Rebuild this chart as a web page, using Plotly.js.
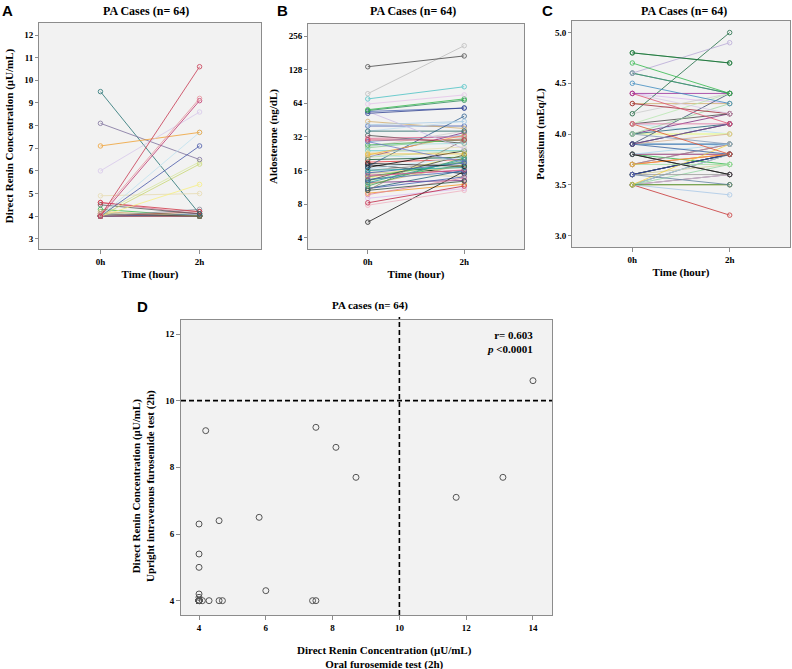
<!DOCTYPE html>
<html>
<head>
<meta charset="utf-8">
<script src="https://cdn.plot.ly/plotly-3.0.1.min.js"></script>
<style>
  body { margin: 0; background: #fff; }
  #chart { width: 792px; height: 669px; }
</style>
</head>
<body>
<div id="chart"></div>
<script>
// ---- data ----
const timeLabels = ['0h', '2h'];

// A: direct renin concentration (uU/mL), upright IV furosemide test
const reninBefore = [4.0, 4.1, 4.0, 6.0, 7.1, 4.0, 4.0, 8.1, 4.1, 4.0, 4.0, 4.9, 9.5, 4.6, 4.5, 4.6, 4.0, 4.0,
  4.1, 4.2, 4.0, 4.3, 4.1, 4.0,
  4.0, 4.0, 4.0, 4.0, 4.0, 4.0, 4.0, 4.0, 4.0, 4.0, 4.0, 4.0, 4.0, 4.0, 4.0, 4.0, 4.0, 4.0, 4.0, 4.0,
  4.0, 4.0, 4.0, 4.0, 4.0, 4.0, 4.0, 4.0, 4.0, 4.0, 4.0, 4.0, 4.0, 4.0, 4.0, 4.0, 4.0, 4.0, 4.0, 4.0];
const reninAfter = [10.6, 9.2, 9.1, 8.6, 7.7, 7.7, 7.1, 6.5, 6.4, 6.3, 5.4, 5.0, 4.1, 4.2, 4.1, 4.1, 4.3, 4.2,
  4.0, 4.0, 4.1, 4.0, 4.1, 4.0,
  4.0, 4.0, 4.0, 4.0, 4.0, 4.0, 4.0, 4.0, 4.0, 4.0, 4.0, 4.0, 4.0, 4.0, 4.0, 4.0, 4.0, 4.0, 4.0, 4.0,
  4.0, 4.0, 4.0, 4.0, 4.0, 4.0, 4.0, 4.0, 4.0, 4.0, 4.0, 4.0, 4.0, 4.0, 4.0, 4.0, 4.0, 4.0, 4.0, 4.0];

// B: aldosterone (ng/dL)
const aldoBefore = [136, 78, 70, 63, 56, 55, 52, 54, 41, 54, 36, 36, 30, 31, 29, 27, 25.5, 27, 22.5, 22,
  23, 21, 18.5, 17.4, 16, 15.2, 14.2, 13.3, 12.4, 11.6, 10.6, 10.6, 9.7, 8.2, 7.8, 5.5, 17, 16.5, 13, 12,
  11, 14, 15, 12.5, 13.5, 19, 24, 26, 29, 20, 10, 9, 11, 12, 14.5, 16, 18, 22, 33, 44, 40, 13, 15.5, 21];
const aldoAfter = [170, 210, 90, 76, 70, 68, 58, 58, 44, 25, 36, 44, 30, 32, 19, 30, 31, 28, 22.5, 33,
  26, 24, 17.4, 49, 17, 18.6, 16.2, 15.7, 20, 20.7, 12.8, 30, 13.7, 11.6, 10.6, 15.7, 24, 21, 22, 18,
  14, 19, 17, 13, 22, 20, 24, 36, 33, 21, 12, 11, 16, 23, 16, 19, 15, 20, 28, 38, 40, 18, 14, 35];

// C: potassium (mEq/L)
const kBefore = [4.8, 4.7, 4.6, 4.6, 4.5, 4.4, 4.4, 4.4, 4.3, 4.2, 4.1, 4.1, 4.1, 4.0, 4.0, 3.9, 3.9, 3.9, 3.9, 3.8,
  3.8, 3.7, 3.7, 3.6, 3.6, 3.6, 3.5, 3.5, 3.5, 3.5, 3.5, 3.5,
  4.0, 3.9, 3.8, 3.7, 3.6, 3.5, 4.1, 4.3, 3.9, 3.8, 3.6, 3.5, 4.0, 3.7, 3.9, 4.2, 3.8, 3.6, 3.5, 4.4,
  3.9, 4.0, 3.7, 3.6, 3.8, 4.1, 3.5, 3.9, 4.6, 4.8, 3.8, 4.0];
const kAfter = [4.7, 4.4, 4.9, 4.4, 4.3, 4.4, 4.1, 4.2, 4.2, 5.0, 4.1, 3.8, 4.4, 4.3, 3.9, 4.4, 4.1, 3.8, 4.0, 3.6,
  3.9, 3.8, 3.7, 3.8, 3.6, 3.5, 3.9, 3.5, 3.4, 3.2, 3.7, 3.6,
  4.1, 3.8, 3.8, 3.9, 3.8, 3.8, 4.2, 4.3, 3.9, 3.7, 3.7, 3.6, 4.0, 3.8, 3.9, 4.4, 3.8, 3.8, 3.5, 4.3,
  4.1, 4.0, 3.9, 3.8, 3.6, 4.0, 3.8, 4.1, 4.4, 4.7, 3.8, 4.2];

// D: 2h renin, oral test (x) vs upright IV test (y)
const drcOral = [14.0, 4.2, 7.5, 8.1, 8.7, 13.1, 11.7, 5.8, 4.6, 4.0, 4.0, 4.0, 6.0, 4.0, 4.0, 4.1, 4.3, 4.6, 4.7, 7.4, 7.5,
  4.0, 4.0, 4.0, 4.0, 4.0, 4.0, 4.0, 4.0, 4.0, 4.0, 4.0, 4.0, 4.0, 4.0, 4.0, 4.0, 4.0, 4.0, 4.0, 4.0, 4.0, 4.0,
  4.0, 4.0, 4.0, 4.0, 4.0, 4.0, 4.0, 4.0, 4.0, 4.0, 4.0, 4.0, 4.0, 4.0, 4.0, 4.0, 4.0, 4.0, 4.0, 4.0, 4.0];
const drcIv = [10.6, 9.1, 9.2, 8.6, 7.7, 7.7, 7.1, 6.5, 6.4, 6.3, 5.4, 5.0, 4.3, 4.2, 4.1, 4.0, 4.0, 4.0, 4.0, 4.0, 4.0,
  4.0, 4.0, 4.0, 4.0, 4.0, 4.0, 4.0, 4.0, 4.0, 4.0, 4.0, 4.0, 4.0, 4.0, 4.0, 4.0, 4.0, 4.0, 4.0, 4.0, 4.0, 4.0,
  4.0, 4.0, 4.0, 4.0, 4.0, 4.0, 4.0, 4.0, 4.0, 4.0, 4.0, 4.0, 4.0, 4.0, 4.0, 4.0, 4.0, 4.0, 4.0, 4.0, 4.0];

// ---- styling ----
const palette = ['#3e58ac', '#2eb848', '#d3ce97', '#7c287d', '#fbf873', '#ef3338', '#48c2c5', '#cccccc', '#7aaad5',
  '#0a562c', '#f8981d', '#ddbaf1', '#1a5f76', '#ccffcc', '#bb3f7f', '#999999', '#000000', '#b5e0f2', '#444444', '#d2ae6d'];

const colA = ['#c8364f', '#e8909a', '#c0306a', '#d8c8ec', '#f0a030', '#bfe3f0', '#4656a8', '#7c6f9c', '#d8e8a0',
  '#c8d870', '#f8f080', '#e8dcb0', '#1f6f70', '#d03040', '#555555', '#e07090', '#8a8a9a', '#b05050'];
const colB = ['#444444', '#bdbdbd', '#48c2c5', '#e6c3ea', '#2eb848', '#2a8a5a', '#2c3e8f', '#4a64b4', '#a8cce8',
  '#cdbde8', '#1a5f5f', '#c0dff0', '#d03050', '#e0608a', '#6a78c8', '#4caf50', '#90d090', '#a0e0e0', '#f0c040',
  '#f8b040', '#e8e0b0', '#b8e0a0', '#222222', '#2a5d8f', '#20a0a0', '#3e58ac', '#e06090', '#4a70c0', '#2aa0a0',
  '#3aa655', '#2f4f3f', '#8a7a6a', '#e080a0', '#c02040', '#f0b0c0', '#111111'];
const colC = ['#1a5f3a', '#2eb848', '#b8a8d8', '#3aa655', '#3a8ac0', '#9a2a9a', '#e05070', '#d8c8e8', '#a02030',
  '#1a6a40', '#e070a0', '#e05030', '#b8e8b0', '#a0d8a0', '#8098b8', '#3a4a70', '#7a3a9a', '#3e58ac', '#d8b090',
  '#222222', '#a8d8f0', '#f8a830', '#a0e0a0', '#4050c0', '#999999', '#6080a0', '#f0d040', '#2a9a4a', '#a8c8e8',
  '#c83030', '#90d8a0', '#d0d0d0'];

const W = 792, H = 669;
const serif = 'Liberation Serif, Times New Roman, serif';
const sans = 'Liberation Sans, Arial, sans-serif';
const tickFont = { family: serif, size: 9, color: '#000', weight: 'bold' };
const titleFont = { family: serif, size: 11, color: '#000', weight: 'bold' };
const bgColor = '#f2f2f2';
const frame = '#8c8c8c';

function domX(left, right) { return [left / W, right / W]; }
function domY(top, bottom) { return [1 - bottom / H, 1 - top / H]; }

// one trace per case, drawn from the last case to the first so the
// coloured lines end up above the flat ones
function pairTraces(before, after, cols, xa, ya) {
  const out = [];
  for (let i = before.length - 1; i >= 0; i--) {
    const c = cols[i] || palette[i % palette.length];
    out.push({
      x: [0, 1], y: [before[i], after[i]],
      xaxis: xa, yaxis: ya,
      mode: 'lines+markers', type: 'scatter',
      line: { color: c, width: 1 },
      marker: { symbol: 'circle-open', size: 4.5, color: c, line: { width: 1 } },
      opacity: 0.78, hoverinfo: 'skip', showlegend: false
    });
  }
  return out;
}

const traces = [].concat(
  pairTraces(reninBefore, reninAfter, colA, 'x', 'y'),
  pairTraces(aldoBefore, aldoAfter, colB, 'x2', 'y2'),
  pairTraces(kBefore, kAfter, colC, 'x3', 'y3')
);

traces.push({
  x: drcOral, y: drcIv, xaxis: 'x4', yaxis: 'y4',
  mode: 'markers', type: 'scatter',
  marker: { symbol: 'circle-open', size: 6, color: '#555555', line: { width: 1 } },
  hoverinfo: 'skip', showlegend: false
});

function timeAxis(left, right, anchor) {
  return {
    domain: domX(left, right), anchor: anchor,
    range: [-0.62, 1.62], tickvals: [0, 1], ticktext: timeLabels,
    ticks: 'outside', ticklen: 4, tickcolor: frame,
    showline: true, mirror: true, linecolor: frame, linewidth: 1,
    showgrid: false, zeroline: false, tickfont: tickFont,
    title: { text: 'Time (hour)', font: titleFont, standoff: 4 }
  };
}
function valueAxis(top, bottom, anchor, extra) {
  return Object.assign({
    domain: domY(top, bottom), anchor: anchor,
    ticks: 'outside', ticklen: 3, tickcolor: frame,
    showline: true, mirror: true, linecolor: frame, linewidth: 1,
    showgrid: false, zeroline: false, tickfont: tickFont
  }, extra);
}

const dashed = { color: '#000', width: 1.6, dash: '5px,3px' };

const layout = {
  width: W, height: H,
  margin: { l: 0, r: 0, t: 0, b: 0 },
  paper_bgcolor: '#fff', plot_bgcolor: bgColor,
  xaxis: timeAxis(39, 261, 'y'),
  yaxis: valueAxis(23, 249, 'x', {
    range: [2.55, 12.53], tickvals: [3, 4, 5, 6, 7, 8, 9, 10, 11, 12],
    title: { text: 'Direct Renin Concentration (μU/mL)', font: titleFont, standoff: 8 }
  }),
  xaxis2: timeAxis(308, 524, 'y2'),
  yaxis2: valueAxis(24, 249, 'x2', {
    type: 'log', range: [0.4997, 2.5167],
    tickvals: [4, 8, 16, 32, 64, 128, 256], ticktext: ['4', '8', '16', '32', '64', '128', '256'],
    title: { text: 'Aldosterone (ng/dL)', font: titleFont, standoff: 8 }
  }),
  xaxis3: timeAxis(572, 790, 'y3'),
  yaxis3: valueAxis(21, 247, 'x3', {
    range: [2.886, 5.114], tickvals: [3, 3.5, 4, 4.5, 5], ticktext: ['3.0', '3.5', '4.0', '4.5', '5.0'],
    title: { text: 'Potassium (mEq/L)', font: titleFont, standoff: 8 }
  }),
  xaxis4: {
    domain: domX(181, 552), anchor: 'y4',
    range: [3.46, 14.57], tickvals: [4, 6, 8, 10, 12, 14],
    ticks: 'outside', ticklen: 4, tickcolor: frame,
    showline: true, mirror: true, linecolor: frame, linewidth: 1,
    showgrid: false, zeroline: false, tickfont: tickFont
  },
  yaxis4: valueAxis(320, 615, 'x4', {
    range: [3.57, 12.42], tickvals: [4, 6, 8, 10, 12], ticklen: 4
  }),
  shapes: [
    { type: 'line', xref: 'x4', yref: 'y4 domain', x0: 10, x1: 10, y0: 0, y1: 1.01, line: dashed },
    { type: 'line', xref: 'x4 domain', yref: 'y4', x0: 0, x1: 1, y0: 10, y1: 10, line: dashed }
  ],
  annotations: []
};

function note(text, px, py, font, extra) {
  layout.annotations.push(Object.assign({
    text: text, xref: 'paper', yref: 'paper', x: px / W, y: 1 - py / H,
    xanchor: 'center', yanchor: 'middle', showarrow: false, font: font
  }, extra || {}));
}
const letterFont = { family: sans, size: 15, color: '#000', weight: 'bold' };
const headFont = { family: serif, size: 12, color: '#000', weight: 'bold' };
note('A', 7, 10, letterFont);
note('B', 282, 10, letterFont);
note('C', 547, 10, letterFont);
note('D', 142, 306, letterFont);
note('PA Cases (n= 64)', 146, 11, headFont);
note('PA Cases (n= 64)', 413, 11, headFont);
note('PA Cases (n= 64)', 684, 11, headFont);
note('PA cases (n= 64)', 370, 305, { family: serif, size: 11, color: '#000', weight: 'bold' });
note('Direct Renin Concentration (μU/mL)<br>Oral furosemide test (2h)', 384, 657, titleFont);
note('Direct Renin Concentration (μU/mL)<br>Upright intravenous furosemide test (2h)', 143, 486, titleFont, { textangle: -90 });
note('r= 0.603<br><i>p</i> &lt;0.0001', 535, 342, titleFont, { xanchor: 'right', align: 'right' });

Plotly.newPlot('chart', traces, layout, { staticPlot: true, displayModeBar: false });
</script>
</body>
</html>
